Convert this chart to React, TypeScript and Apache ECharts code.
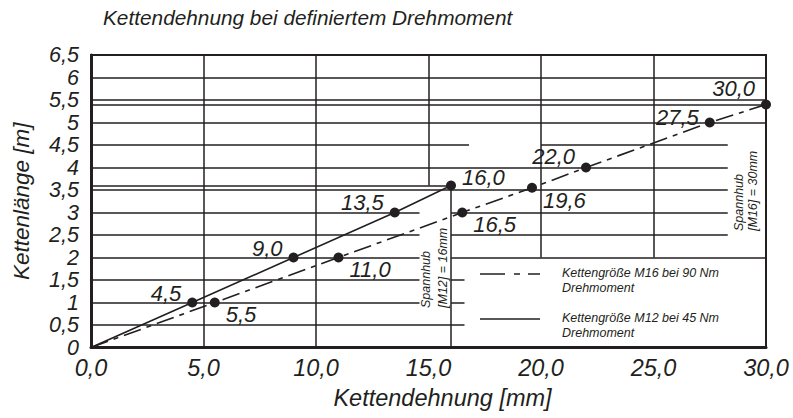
import React, { useEffect, useRef } from "react";
import * as echarts from "echarts";

// ---------- texts ----------
const titleText = "Kettendehnung bei definiertem Drehmoment";
const xName = "Kettendehnung [mm]";
const yName = "Kettenlänge [m]";
const m16Name = "Kettengröße M16 bei 90 Nm\nDrehmoment";
const m12Name = "Kettengröße M12 bei 45 Nm\nDrehmoment";
const m12Stroke = "Spannhub\n[M12] = 16mm";
const m16Stroke = "Spannhub\n[M16] = 30mm";

// ---------- axis ranges / ticks ----------
const xMin = 0;
const xMax = 30;
const xStep = 5;
const yMin = 0;
const yMax = 6.5;
const yStep = 0.5;
const yTicks = [0, 0.5, 1, 1.5, 2, 2.5, 3, 3.5, 4, 4.5, 5, 5.5, 6, 6.5];

// ---------- data: elongation [mm] vs chain length [m] ----------
const m12Elong = [0, 4.5, 9.0, 13.5, 16.0];
const m12Length = [0, 1, 2, 3, 3.6];
const m16Elong = [0, 5.5, 11.0, 16.5, 19.6, 22.0, 27.5, 30.0];
const m16Length = [0, 1, 2, 3, 3.55, 4, 5, 5.4];

// ---------- drawing grid segments (data units) ----------
// horizontal: [y, xFrom, xTo]
const hGrid: number[][] = [
  [6, 0, 30],
  [5.5, 0, 30],
  [5, 0, 30],
  [4.5, 0, 16.8],
  [4.5, 20, 28.3],
  [4, 0, 28.3],
  [3.5, 0, 28.3],
  [3, 0, 14.6],
  [3, 16, 28.3],
  [2.5, 0, 14.6],
  [2.5, 16, 28.3],
  [2, 0, 14.6],
  [2, 16, 30],
  [1.5, 0, 14.6],
  [1.5, 16, 16.6],
  [1, 0, 14.6],
  [1, 16, 16.6],
  [0.5, 0, 16.6],
];
// vertical: [x, yFrom, yTo]
const vGrid: number[][] = [
  [5, 0, 6.5],
  [10, 0, 6.5],
  [15, 3.6, 6.5],
  [16, 0, 3.6],
  [20, 2, 6.5],
  [25, 2, 6.5],
];

const INK = "#231f20";
const FONT = "'Liberation Sans', Arial, sans-serif";
const m16Dash = [18, 6, 5, 6];

const comma = (v: number, d?: number) =>
  (d === undefined ? String(v) : v.toFixed(d)).replace(".", ",");

// label placements (style, not data)
const m12LabelPlace: any[] = [null, ["left", -9], ["left", -9], ["left", -10], ["right", -8]];
const m16LabelPlace: any[] = [
  null,
  ["right", 12],
  ["right", 12],
  ["right", 12],
  ["right", 13],
  ["left", -11],
  ["left", -5],
  ["left", -16],
];

function pointLabel(p: any) {
  if (!p) return { show: false };
  return {
    show: true,
    position: p[0],
    offset: [0, p[1]],
    distance: 6,
    formatter: (prm: any) => comma(prm.value[0], 1),
  };
}

export default function App() {
  const ref = useRef<HTMLDivElement>(null);

  useEffect(() => {
    if (!ref.current) return;
    const chart = echarts.init(ref.current, undefined, { renderer: "svg" });

    const m12Last = m12Length[m12Length.length - 1];
    const m16Last = m16Length[m16Length.length - 1];
    const m12LastX = m12Elong[m12Elong.length - 1];
    const m16LastX = m16Elong[m16Elong.length - 1];

    const segs = [
      ...hGrid.map(([y, a, b]) => ({ coords: [[a, y], [b, y]] })),
      { coords: [[0, m16Last], [m16LastX, m16Last]] },
      { coords: [[0, m12Last], [m12LastX, m12Last]] },
      ...vGrid.map(([x, a, b]) => ({ coords: [[x, a], [x, b]] })),
    ];

    const labelText = {
      fontSize: 23,
      fontStyle: "italic" as const,
      fontFamily: FONT,
      color: INK,
    };

    const mk = (xs: number[], ys: number[], place: any[]) =>
      xs.map((x, i) => ({
        value: [x, ys[i]],
        symbol: i === 0 ? "none" : "circle",
        label: pointLabel(place[i]),
      }));

    const smallText = {
      fontSize: 12.5,
      fontStyle: "italic",
      fontFamily: FONT,
      fill: INK,
    };

    const option: any = {
      animation: false,
      backgroundColor: "#ffffff",
      title: {
        text: titleText,
        left: 103,
        top: 7,
        padding: 0,
        textStyle: {
          fontSize: 20.8,
          fontStyle: "italic",
          fontWeight: "normal",
          fontFamily: FONT,
          color: INK,
        },
      },
      grid: {
        left: 91,
        right: 27,
        top: 55,
        bottom: 70.5,
        show: true,
        borderColor: INK,
        borderWidth: 2,
        backgroundColor: "transparent",
      },
      xAxis: {
        type: "value",
        min: xMin,
        max: xMax,
        interval: xStep,
        name: xName,
        nameLocation: "middle",
        nameGap: 39,
        nameTextStyle: { ...labelText, fontSize: 23.5, padding: [0, 0, 0, 28] },
        axisLine: { show: true, onZero: false, lineStyle: { color: INK, width: 3 } },
        axisTick: { show: false },
        splitLine: { show: false },
        axisLabel: {
          ...labelText,
          fontSize: 23.5,
          margin: 9,
          showMinLabel: true,
          showMaxLabel: true,
          formatter: (v: number) => comma(v, 1),
        },
      },
      yAxis: {
        type: "value",
        min: yMin,
        max: yMax,
        interval: yStep,
        name: yName,
        nameLocation: "middle",
        nameGap: 58,
        nameTextStyle: { ...labelText, fontSize: 22.5 },
        axisLine: { show: true, onZero: false, lineStyle: { color: INK, width: 3 } },
        axisTick: { show: false },
        splitLine: { show: false },
        axisLabel: { show: false },
      },
      series: [
        {
          type: "lines",
          coordinateSystem: "cartesian2d",
          silent: true,
          z: 1,
          lineStyle: { color: INK, width: 1.5, opacity: 1, type: "solid" },
          data: segs,
        },
        {
          name: m12Name,
          type: "line",
          z: 3,
          data: mk(m12Elong, m12Length, m12LabelPlace),
          symbolSize: 10,
          itemStyle: { color: INK },
          lineStyle: { color: INK, width: 1.6, type: "solid" },
          label: { ...labelText, fontSize: 22 },
        },
        {
          name: m16Name,
          type: "line",
          z: 3,
          data: mk(m16Elong, m16Length, m16LabelPlace),
          symbolSize: 10,
          itemStyle: { color: INK },
          lineStyle: { color: INK, width: 1.6, type: m16Dash },
          label: { ...labelText, fontSize: 22 },
        },
        {
          // y tick labels, placed through the y scale
          type: "custom",
          z: 3,
          silent: true,
          clip: false,
          data: yTicks.map((v) => [xMin, v]),
          renderItem: (_params: any, api: any) => {
            const v = api.value(1);
            const p = api.coord([api.value(0), v]);
            return {
              type: "text",
              x: p[0] - 12,
              y: p[1],
              style: {
                text: comma(v),
                align: "right",
                verticalAlign: "middle",
                fontSize: 21.5,
                fontStyle: "italic",
                fontFamily: FONT,
                fill: INK,
                lineHeight: 19,
              },
            };
          },
        },
        {
          type: "scatter",
          z: 3,
          symbol: "none",
          silent: true,
          data: [
            { value: [0, m16Last], label: { offset: [0, 14] } },
            { value: [0, m12Last], label: { offset: [0, -11] } },
          ],
          label: {
            show: true,
            position: "right",
            distance: 4,
            ...labelText,
            fontSize: 22,
            lineHeight: 20,
            formatter: (prm: any) => comma(prm.value[1]),
          },
        },
      ],
      graphic: [
        {
          type: "line",
          shape: { x1: 480, y1: 274, x2: 540, y2: 274 },
          style: { stroke: INK, lineWidth: 1.6, lineDash: [25, 9, 6, 8] },
        },
        {
          type: "text",
          x: 562,
          y: 265,
          style: { text: m16Name, ...smallText, lineHeight: 15, verticalAlign: "top" },
        },
        {
          type: "line",
          shape: { x1: 480, y1: 319, x2: 540, y2: 319 },
          style: { stroke: INK, lineWidth: 1.6 },
        },
        {
          type: "text",
          x: 562,
          y: 310,
          style: { text: m12Name, ...smallText, lineHeight: 15, verticalAlign: "top" },
        },
        {
          type: "text",
          x: 434,
          y: 308,
          rotation: Math.PI / 2,
          style: {
            text: m12Stroke,
            ...smallText,
            lineHeight: 17,
            align: "left",
            verticalAlign: "middle",
          },
        },
        {
          type: "text",
          x: 745.5,
          y: 231,
          rotation: Math.PI / 2,
          style: {
            text: m16Stroke,
            ...smallText,
            lineHeight: 14,
            align: "left",
            verticalAlign: "middle",
          },
        },
      ],
    };

    chart.setOption(option);
    return () => chart.dispose();
  }, []);

  return (
    <div
      ref={ref}
      style={{ position: "fixed", left: 0, top: 0, width: 793, height: 418, background: "#fff" }}
    />
  );
}
